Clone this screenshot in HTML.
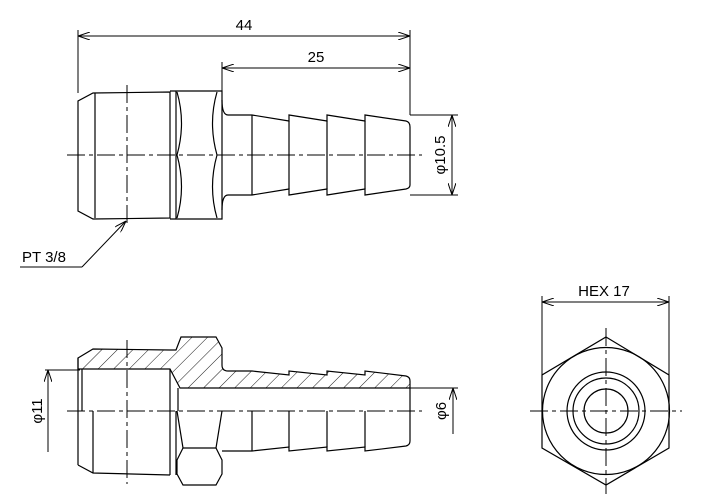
<!DOCTYPE html>
<html><head><meta charset="utf-8"><style>
html,body{margin:0;padding:0;background:#fff;}
svg{display:block;}
text{font-family:"Liberation Sans",sans-serif;font-size:15px;fill:#000;}
</style></head><body>
<svg width="702" height="499" viewBox="0 0 702 499" xmlns="http://www.w3.org/2000/svg">
<defs>
<pattern id="h" patternUnits="userSpaceOnUse" width="11" height="11" patternTransform="rotate(45)">
<line x1="0" y1="0" x2="0" y2="11" stroke="#000" stroke-width="0.9"/>
</pattern>
<marker id="a" viewBox="0 0 12 8" refX="12" refY="4" markerWidth="12" markerHeight="8" orient="auto-start-reverse" markerUnits="userSpaceOnUse">
<path d="M0,0 L12,4 L0,8" fill="none" stroke="#000" stroke-width="1"/>
</marker>
</defs>
<g fill="none" stroke="#000" stroke-width="1.2">
<path d="M93,93 L170,92 L170,218 L93,219 L78,211 L78,101 Z"/>
<line x1="95" y1="93" x2="95" y2="218"/>
<path d="M170,91 L222,91 L222,219 L170,219"/>
<line x1="176" y1="91" x2="176" y2="219"/>
<path d="M177,92 Q186,123 177,155 Q186,187 177,218"/>
<path d="M217,92 Q208,123 217,155 Q208,187 217,218"/>
<path d="M222,100 Q222,115 228,115 L252,115 L289,121 L289,115 L327,121 L327,115 L365,121 L365,115 L406,121 Q410,122 410,127 L410,185 Q410,188 406,189 L365,195 L365,189 L327,195 L327,189 L289,195 L289,189 L252,195 L228,195 Q222,195 222,210"/>
<line x1="252" y1="115" x2="252" y2="195"/>
<line x1="289" y1="121" x2="289" y2="189"/>
<line x1="327" y1="121" x2="327" y2="189"/>
<line x1="365" y1="121" x2="365" y2="189"/>
<path d="M78,358 L93,349 L170,350 L176,350 L181,337 L216,337 L222,348 L222,365 Q222,371 228,371 L252,371 L289,375 L289,371 L327,375 L327,371 L365,375 L365,371 L406,376 Q410,377 410,381 L410,388 L180,388 L170,369 L78,369 Z" fill="url(#h)"/>
<line x1="78" y1="358" x2="78" y2="465"/>
<line x1="82" y1="369" x2="82" y2="411"/>
<line x1="170" y1="369" x2="170" y2="475"/>
<line x1="178" y1="388" x2="178" y2="411"/>
<line x1="410" y1="388" x2="410" y2="411"/>
<path d="M78,465 L93,473 L170,475"/>
<line x1="93" y1="411" x2="93" y2="473"/>
<path d="M177,411 L183,448 L216,448 L222,411"/>
<path d="M183,448 L177,460 L177,474 L183,485 L216,485 L222,474 L222,460 L216,448"/>
<line x1="176" y1="411" x2="176" y2="475"/>
<path d="M222,451 L252,451 L289,447 L289,451 L327,447 L327,451 L365,447 L365,451 L406,446 Q410,445 410,441 L410,411"/>
<line x1="252" y1="411" x2="252" y2="451"/>
<line x1="289" y1="411" x2="289" y2="447"/>
<line x1="327" y1="411" x2="327" y2="447"/>
<line x1="365" y1="411" x2="365" y2="447"/>
<path d="M606,337 L669,375 L669,448 L606,485 L542,448 L542,375 Z"/>
<circle cx="606" cy="411" r="63.5"/>
<circle cx="606" cy="411" r="39"/>
<circle cx="606" cy="411" r="33"/>
<circle cx="606" cy="411" r="22"/>
</g>
<g stroke="#000" stroke-width="1" stroke-dasharray="18,4,4,4" fill="none">
<line x1="67" y1="155" x2="422" y2="155"/>
<line x1="127" y1="85" x2="127" y2="225"/>
<line x1="67" y1="411" x2="422" y2="411"/>
<line x1="127" y1="340" x2="127" y2="484"/>
<line x1="530" y1="411" x2="682" y2="411"/>
<line x1="606" y1="328" x2="606" y2="494"/>
</g>
<g stroke="#000" stroke-width="1" fill="none">
<line x1="78" y1="30" x2="78" y2="93"/>
<line x1="410" y1="30" x2="410" y2="115"/>
<line x1="78" y1="36" x2="410" y2="36" marker-start="url(#a)" marker-end="url(#a)"/>
<line x1="222" y1="62" x2="222" y2="91"/>
<line x1="222" y1="68" x2="410" y2="68" marker-start="url(#a)" marker-end="url(#a)"/>
<line x1="410" y1="115" x2="458" y2="115"/>
<line x1="410" y1="195" x2="458" y2="195"/>
<line x1="452" y1="115" x2="452" y2="195" marker-start="url(#a)" marker-end="url(#a)"/>
<line x1="126" y1="221" x2="82" y2="267" marker-start="url(#a)"/>
<line x1="82" y1="267" x2="20" y2="267"/>
<line x1="45" y1="370" x2="80" y2="370"/>
<line x1="48" y1="452" x2="48" y2="370" marker-end="url(#a)"/>
<line x1="410" y1="388" x2="458" y2="388"/>
<line x1="453" y1="434" x2="453" y2="388" marker-end="url(#a)"/>
<line x1="542" y1="296" x2="542" y2="375"/>
<line x1="669" y1="296" x2="669" y2="375"/>
<line x1="542" y1="302" x2="669" y2="302" marker-start="url(#a)" marker-end="url(#a)"/>
</g>
<text x="244" y="30" text-anchor="middle">44</text>
<text x="316" y="62" text-anchor="middle">25</text>
<text x="22" y="262">PT 3/8</text>
<text x="604" y="296" text-anchor="middle">HEX 17</text>
<text transform="translate(445,155) rotate(-90)" text-anchor="middle">φ10.5</text>
<text transform="translate(42,411) rotate(-90)" text-anchor="middle">φ11</text>
<text transform="translate(446,411) rotate(-90)" text-anchor="middle">φ6</text>
</svg>
</body></html>
